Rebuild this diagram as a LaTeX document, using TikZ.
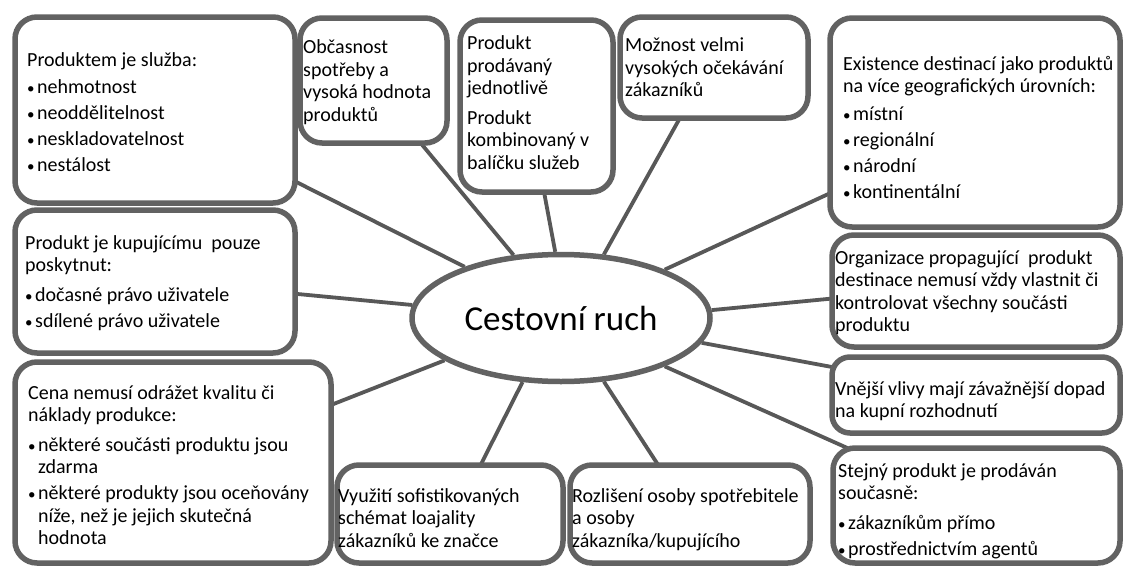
\documentclass[tikz,border=0pt]{standalone}
\usepackage{fontspec}
\setmainfont{Carlito}
\usetikzlibrary{shapes.geometric,backgrounds}
\definecolor{boxgray}{RGB}{98,98,98}
\definecolor{linegray}{RGB}{88,88,88}
\newcommand\bl{\makebox[10pt][l]{\fontsize{15}{15}\selectfont •}}
\newcommand\ind{\hspace*{10pt}}
\newcommand\fst{\rule{0pt}{17pt}}
\tikzset{
  boxnode/.style={draw=boxgray, line width=5.5pt, fill=white, rounded corners=22pt,
    rectangle, inner sep=0pt, outer sep=0pt},
  txt/.style={anchor=north west, inner sep=0pt, align=left,
    font=\fontsize{20}{22.5}\selectfont, text=black, yshift=-2pt},
  conn/.style={draw=linegray, line width=3.8pt},
}
\begin{document}
\begin{tikzpicture}[x=1pt,y=-1pt]
\useasboundingbox (0,0) rectangle (1127,570);

% central ellipse
\node[ellipse, draw=boxgray, line width=5.5pt, fill=white, minimum width=298pt,
  minimum height=127pt, inner sep=0pt, font=\fontsize{35}{40}\selectfont]
  (ell) at (561,318) {Cestovní ruch};

% boxes
\node[boxnode, minimum width=280pt, minimum height=186pt] (b1) at (155,110) {};
\node[boxnode, minimum width=147pt, minimum height=125pt] (b2) at (373.5,80.5) {};
\node[boxnode, minimum width=153pt, minimum height=172pt] (b3) at (536.5,106) {};
\node[boxnode, minimum width=188pt, minimum height=101pt] (b4) at (714,67.5) {};
\node[boxnode, minimum width=290pt, minimum height=209pt] (b5) at (975,122.5) {};
\node[boxnode, minimum width=280pt, minimum height=143pt] (b6) at (155,281.5) {};
\node[boxnode, minimum width=288pt, minimum height=112pt] (b7) at (976,291) {};
\node[boxnode, minimum width=288pt, minimum height=76pt, rounded corners=18pt] (b8) at (976,395) {};
\node[boxnode, minimum width=316pt, minimum height=201pt] (b9) at (173,462.5) {};
\node[boxnode, minimum width=226pt, minimum height=98pt] (b10) at (450,514) {};
\node[boxnode, minimum width=240pt, minimum height=98pt] (b11) at (690,514) {};
\node[boxnode, minimum width=287pt, minimum height=115pt] (b12) at (976.5,505.5) {};

% connectors (behind)
\begin{pgfonlayer}{background}
\fill[white] (0,0) rectangle (1127,570);
\draw[conn] (ell.152.5) -- (b1.-27.8);
\draw[conn] (ell.127.3) -- (b2.-53.3);
\draw[conn] (ell.95.3) -- (b3.-85.8);
\draw[conn] (ell.56.3) -- (b4.-124.7);
\draw[conn] (ell.25.2) -- (b5.206.1);
\draw[conn] (ell.175) -- (b6.-5.4);
\draw[conn] (ell.3.8) -- (b7.183.9);
\draw[conn] (ell.-10.8) -- (b8.169.4);
\draw[conn] (ell.200.8) -- (b9.20.7);
\draw[conn] (ell.239.7) -- (b10.58.5);
\draw[conn] (ell.304.5) -- (b11.123.1);
\draw[conn] (ell.-25) -- (b12.156.9);
\end{pgfonlayer}

% texts
\node[txt] (t1) at (27,47.7) {\fst Produktem je služba:\\[4pt]\bl nehmotnost\\[3.5pt]\bl neoddělitelnost\\[3.5pt]\bl neskladovatelnost\\[3.5pt]\bl nestálost};
\node[txt] (t2) at (303,34.7) {\fst Občasnost\\spotřeby a\\vysoká hodnota\\produktů};
\node[txt] (t3) at (467,30.7) {\fst Produkt\\prodávaný\\jednotlivě\\[7pt]Produkt\\kombinovaný v\\balíčku služeb};
\node[txt] (t4) at (625,32.7) {\fst Možnost velmi\\vysokých očekávání\\zákazníků};
\node[txt] (t5) at (843,51) {\fst Existence destinací jako produktů\\na více geografických úrovních:\\[5pt]\bl místní\\[3.5pt]\bl regionální\\[3.5pt]\bl národní\\[3.5pt]\bl kontinentální};
\node[txt] (t6) at (25,230) {\fst Produkt je kupujícímu \ pouze\\poskytnut:\\[7pt]\bl dočasné právo uživatele\\[3.5pt]\bl sdílené právo uživatele};
\node[txt] (t7) at (835,245) {\fst Organizace propagující \ produkt\\destinace nemusí vždy vlastnit či\\kontrolovat všechny součásti\\produktu};
\node[txt] (t8) at (835,376) {\fst Vnější vlivy mají závažnější dopad\\na kupní rozhodnutí};
\node[txt] (t9) at (28,380) {\fst Cena nemusí odrážet kvalitu či\\náklady produkce:\\[7pt]\bl některé součásti produktu jsou\\\ind zdarma\\[3.5pt]\bl některé produkty jsou oceňovány\\\ind níže, než je jejich skutečná\\\ind hodnota};
\node[txt] (t10) at (338,483) {\fst Využití sofistikovaných\\schémat loajality\\zákazníků ke značce};
\node[txt] (t11) at (572,483) {\fst Rozlišení osoby spotřebitele\\a osoby\\zákazníka/kupujícího};
\node[txt] (t12) at (838,458) {\fst Stejný produkt je prodáván\\současně:\\[7pt]\bl zákazníkům přímo\\[3.5pt]\bl prostřednictvím agentů};
\end{tikzpicture}
\end{document}
